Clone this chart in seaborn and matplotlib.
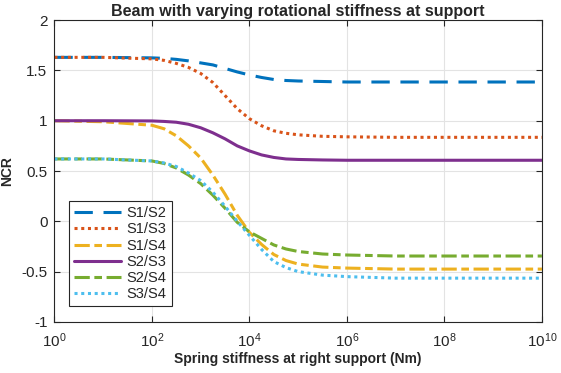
import numpy as np
import pandas as pd
import matplotlib
matplotlib.use("Agg")
import matplotlib.pyplot as plt
import seaborn as sns

# Values (x = spring stiffness in Nm, log scale)
log_k = [0, 1, 2, 2.25, 2.5, 2.75, 3, 3.25, 3.5, 3.75, 4, 4.25, 4.5, 4.75,
         5, 5.5, 6, 7, 8, 9, 10]
s1_s2 = [1.63, 1.63, 1.625, 1.62, 1.61, 1.595, 1.575, 1.555, 1.52, 1.485, 1.455,
         1.43, 1.41, 1.40, 1.395, 1.39, 1.385, 1.385, 1.385, 1.385, 1.385]
s1_s3 = [1.63, 1.63, 1.615, 1.60, 1.57, 1.53, 1.47, 1.38, 1.25, 1.12, 1.02,
         0.95, 0.90, 0.875, 0.86, 0.845, 0.84, 0.835, 0.835, 0.835, 0.835]
s1_s4 = [1.0, 0.99, 0.955, 0.92, 0.85, 0.75, 0.63, 0.46, 0.27, 0.06, -0.11,
         -0.23, -0.33, -0.39, -0.425, -0.455, -0.465, -0.475, -0.475, -0.475, -0.475]
s2_s3 = [1.0, 1.0, 0.998, 0.993, 0.985, 0.965, 0.93, 0.88, 0.82, 0.75, 0.70,
         0.66, 0.635, 0.62, 0.615, 0.61, 0.607, 0.607, 0.607, 0.607, 0.607]
s2_s4 = [0.62, 0.62, 0.60, 0.575, 0.53, 0.46, 0.375, 0.26, 0.13, -0.01, -0.105,
         -0.17, -0.235, -0.275, -0.30, -0.325, -0.335, -0.345, -0.345, -0.345, -0.345]
s3_s4 = [0.62, 0.62, 0.60, 0.58, 0.545, 0.48, 0.405, 0.29, 0.15, 0.0, -0.14,
         -0.28, -0.40, -0.46, -0.50, -0.535, -0.55, -0.565, -0.565, -0.565, -0.565]

labels = ["S1/S2", "S1/S3", "S1/S4", "S2/S3", "S2/S4", "S3/S4"]
series = [s1_s2, s1_s3, s1_s4, s2_s3, s2_s4, s3_s4]
colors = ["#0072BD", "#D95319", "#EDB120", "#7E2F8E", "#77AC30", "#4DBEEE"]
styles = [(0, (6, 3.5)), (0, (1, 1.2)), (0, (5, 1.5, 2.5, 1.5)), "-",
          (0, (5, 1.5, 2.5, 1.5)), (0, (1, 1.2))]

x_ticks = [1e0, 1e2, 1e4, 1e6, 1e8, 1e10]
y_ticks = [-1, -0.5, 0, 0.5, 1, 1.5, 2]
y_tick_labels = ["-1", "-0.5", "0", "0.5", "1", "1.5", "2"]

sns.set_style("whitegrid")
plt.rcParams["font.family"] = ["Liberation Sans", "DejaVu Sans"]

fig = plt.figure(figsize=(5.61, 3.73), dpi=100)
ax = fig.add_axes([0.097, 0.137, 0.869, 0.809])

k = np.power(10.0, log_k)
for lab, vals, col, ls in zip(labels, series, colors, styles):
    df = pd.DataFrame({"k": k, "ncr": vals})
    sns.lineplot(data=df, x="k", y="ncr", ax=ax, color=col, linestyle=ls,
                 linewidth=2.2, label=lab)

ax.set_xscale("log")
ax.set_xlim(1e0, 1e10)
ax.set_ylim(-1, 2)
ax.set_xticks(x_ticks)
ax.xaxis.set_minor_locator(matplotlib.ticker.NullLocator())
ax.set_yticks(y_ticks)
ax.set_yticklabels(y_tick_labels)

ax.grid(True, color="#e3e3e3", linewidth=0.8)
for sp in ax.spines.values():
    sp.set_color("#262626")
    sp.set_linewidth(0.8)
ax.tick_params(direction="in", length=4, width=0.8, color="#262626",
               labelsize=11, labelcolor="#262626",
               top=True, right=True, bottom=True, left=True)
ax.tick_params(axis="x", pad=7)
ax.tick_params(axis="y", pad=5)

ax.set_title("Beam with varying rotational stiffness at support",
             fontsize=11.5, fontweight="bold", pad=3)
ax.set_xlabel("Spring stiffness at right support (Nm)", fontsize=10,
              fontweight="bold", labelpad=1)
ax.set_ylabel("NCR", fontsize=10, fontweight="bold", labelpad=5)

leg = ax.legend(loc="upper left", bbox_to_anchor=(0.03, 0.40), fontsize=10.5,
                frameon=True, fancybox=False, handlelength=3.2,
                labelspacing=0.15, borderpad=0.35, handletextpad=0.4,
                borderaxespad=0)
leg.get_frame().set_edgecolor("#262626")
leg.get_frame().set_linewidth(0.8)
leg.get_frame().set_alpha(1)

fig.savefig("out.png", dpi=100)
